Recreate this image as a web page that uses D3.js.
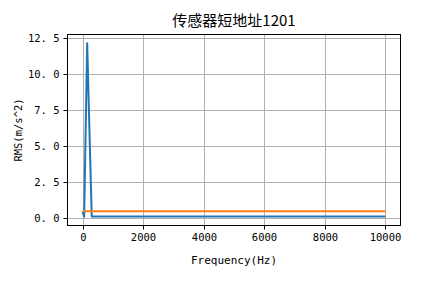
<!DOCTYPE html>
<meta charset="utf-8">
<html>
<head>
  <script src="https://d3js.org/d3.v7.min.js"></script>
  <style>
    body { margin: 0; background: #fff; }
    text { font-family: "DejaVu Sans Mono", "Noto Sans CJK SC", monospace; }
  </style>
</head>
<body>
  <svg id="chart"></svg>
  <script type="text/javascript">
    // data
    var title = "传感器短地址1201"
    var xLabel = "Frequency(Hz)"
    var yLabel = "RMS(m/s^2)"
    var freqs = [0, 50, 150, 300, 10000]
    var rmsValues = [0.4, 0.05, 12.15, 0.07, 0.07]
    var refFreqs = [0, 10000]
    var refValues = [0.44, 0.44]
    var xTicks = [0, 2000, 4000, 6000, 8000, 10000]
    var yTicks = [0, 2.5, 5, 7.5, 10, 12.5]

    var width = 444, height = 283
    var margin = { left: 67.5, right: 43.5, top: 34.5, bottom: 57.5 }

    const svg = d3.select('#chart')
      .attr('width', width)
      .attr('height', height)

    // matplotlib style 5% margins
    function padded(vals) {
      var lo = d3.min(vals), hi = d3.max(vals), r = hi - lo
      return [lo - 0.05 * r, hi + 0.05 * r]
    }
    var x = d3.scaleLinear()
      .domain(padded(freqs.concat(refFreqs)))
      .range([margin.left, width - margin.right])
    var y = d3.scaleLinear()
      .domain(padded(rmsValues.concat(refValues)))
      .range([height - margin.bottom, margin.top])

    // grid
    const grid = svg.append('g').attr('stroke', '#b0b0b0').attr('stroke-width', 1)
    grid.selectAll('.gx').data(xTicks).enter().append('line')
      .attr('x1', d => Math.round(x(d)) + 0.5).attr('x2', d => Math.round(x(d)) + 0.5)
      .attr('y1', margin.top).attr('y2', height - margin.bottom)
    grid.selectAll('.gy').data(yTicks).enter().append('line')
      .attr('y1', d => Math.round(y(d)) + 0.5).attr('y2', d => Math.round(y(d)) + 0.5)
      .attr('x1', margin.left).attr('x2', width - margin.right)

    // lines
    var line = d3.line()
    svg.append('path')
      .attr('d', line(freqs.map((f, i) => [x(f), y(rmsValues[i])])))
      .attr('fill', 'none').attr('stroke', '#1f77b4').attr('stroke-width', 2)
      .attr('stroke-linejoin', 'round')
    svg.append('path')
      .attr('d', line(refFreqs.map((f, i) => [x(f), y(refValues[i])])))
      .attr('fill', 'none').attr('stroke', '#ff7f0e').attr('stroke-width', 2)

    // axes
    const xAxis = svg.append('g')
      .attr('transform', 'translate(0,' + (height - margin.bottom) + ')')
      .call(d3.axisBottom(x).tickValues(xTicks).tickFormat(d3.format('d')).tickSizeOuter(0).tickSize(4).tickPadding(4))
    const yAxis = svg.append('g')
      .attr('transform', 'translate(' + margin.left + ',0)')
      .call(d3.axisLeft(y).tickValues(yTicks).tickFormat(d3.format('.1f')).tickSizeOuter(0).tickSize(4).tickPadding(4))
    svg.selectAll('.domain').remove()
    xAxis.selectAll('.tick').attr('transform', d => 'translate(' + (Math.round(x(d)) + 0.5) + ',0)')
    yAxis.selectAll('.tick').attr('transform', d => 'translate(0,' + (Math.round(y(d)) + 0.5) + ')')
    svg.selectAll('.tick line').attr('stroke', '#000').attr('stroke-width', 1)
    svg.selectAll('.tick text').attr('font-size', 10.5).attr('fill', '#000')
      .style('font-family', '"DejaVu Sans Mono", monospace')
    yAxis.selectAll('.tick text').text(d => d3.format('.1f')(d).replace('.', '. '))
      .attr('xml:space', 'preserve')

    // frame
    svg.append('rect')
      .attr('x', margin.left).attr('y', margin.top)
      .attr('width', width - margin.left - margin.right)
      .attr('height', height - margin.top - margin.bottom)
      .attr('fill', 'none').attr('stroke', '#000').attr('stroke-width', 1)

    // labels
    svg.append('text')
      .attr('x', (margin.left + width - margin.right) / 2).attr('y', 26)
      .attr('text-anchor', 'middle').attr('font-size', 15)
      .style('font-family', '"Noto Sans CJK SC", sans-serif')
      .text(title)
    svg.append('text')
      .attr('x', (margin.left + width - margin.right) / 2).attr('y', 264)
      .attr('text-anchor', 'middle').attr('font-size', 11)
      .text(xLabel)
    svg.append('text')
      .attr('transform', 'translate(22,' + ((margin.top + height - margin.bottom) / 2) + ') rotate(-90)')
      .attr('text-anchor', 'middle').attr('font-size', 10.5)
      .text(yLabel)
  </script>
</body>
</html>
